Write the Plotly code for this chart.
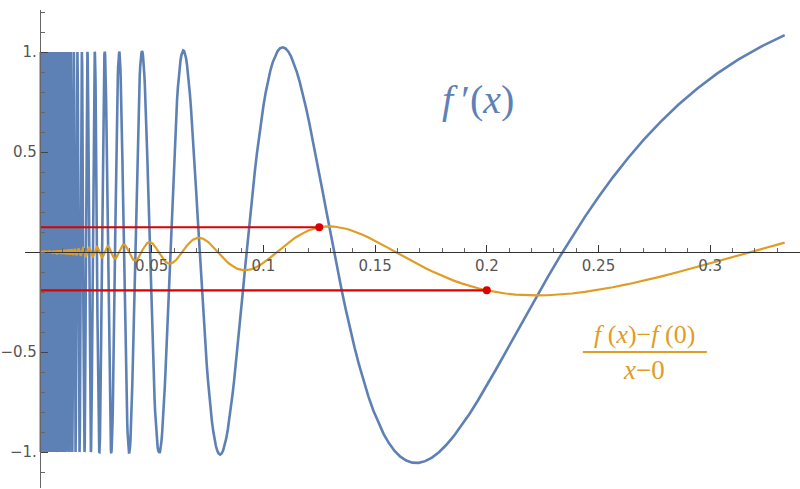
import numpy as np
import plotly.graph_objects as go

# f(x) = x^2 sin(1/x); the plot shows f'(x) and the difference quotient at 0
X_MIN, X_MAX = 0.0, 1 / 3
MARK_X = [0.125, 0.2]

X_TICKS = [0.05, 0.1, 0.15, 0.2, 0.25, 0.3]
X_TICK_TEXT = ["0.05", "0.1", "0.15", "0.2", "0.25", "0.3"]
Y_TICKS = [-1, -0.5, 0.5, 1]
Y_TICK_TEXT = ["\u22121.", "\u22120.5", "0.5", "1."]

BLUE = "#5E81B5"
ORANGE = "#E19C24"
RED = "#DD0000"
AXIS = "#555555"

# sample evenly in 1/x so every oscillation near 0 is resolved
u = np.arange(1 / X_MAX, 3000, 0.1)
x = 1 / u
x = x[::-1]
fprime = 2 * x * np.sin(1 / x) - np.cos(1 / x)
quotient = x * np.sin(1 / x)

mark_y = [xv * np.sin(1 / xv) for xv in MARK_X]

fig = go.Figure()
fig.add_trace(go.Scatter(x=x, y=fprime, mode="lines",
                         line=dict(color=BLUE, width=2.6), hoverinfo="skip"))
fig.add_trace(go.Scatter(x=x, y=quotient, mode="lines",
                         line=dict(color=ORANGE, width=2.2), hoverinfo="skip"))
for xv, yv in zip(MARK_X, mark_y):
    fig.add_trace(go.Scatter(x=[0, xv], y=[yv, yv], mode="lines",
                             line=dict(color=RED, width=2.2), hoverinfo="skip"))
fig.add_trace(go.Scatter(x=MARK_X, y=mark_y, mode="markers",
                         marker=dict(color=RED, size=8), hoverinfo="skip"))

fig.add_annotation(x=0.196, y=0.76, xref="x", yref="y", showarrow=False,
                   text="<i>f</i>\u2009\u2032(<i>x</i>)",
                   font=dict(family="Liberation Serif", size=40, color=BLUE))
fig.add_annotation(x=0.2705, y=-0.41, xref="x", yref="y", showarrow=False,
                   text="<i>f</i> (<i>x</i>)\u2212<i>f</i> (0)",
                   font=dict(family="Liberation Serif", size=26, color=ORANGE))
fig.add_annotation(x=0.2705, y=-0.59, xref="x", yref="y", showarrow=False,
                   text="<i>x</i>\u22120",
                   font=dict(family="Liberation Serif", size=27, color=ORANGE))
fig.add_shape(type="line", xref="x", yref="y", x0=0.243, x1=0.2985,
              y0=-0.5, y1=-0.5, line=dict(color=ORANGE, width=1.8))

fig.update_layout(
    width=800, height=489,
    margin=dict(l=0, r=0, t=0, b=0),
    paper_bgcolor="white", plot_bgcolor="white",
    showlegend=False,
    font=dict(family="DejaVu Sans", size=15, color=AXIS),
    xaxis=dict(
        domain=[25 / 800, 1], range=[-15 / 2234, 760 / 2234],
        anchor="free", position=237 / 489,
        showgrid=False, zeroline=False,
        showline=True, linecolor="#333333", linewidth=1.2,
        tickvals=X_TICKS, ticktext=X_TICK_TEXT,
        ticks="inside", ticklen=7, tickcolor="#333333",
        minor=dict(dtick=0.01, tick0=0, ticks="inside", ticklen=4, tickcolor="#666666"),
    ),
    yaxis=dict(
        domain=[1 / 489, 479 / 489], range=[-1.18, 1.21],
        anchor="free", position=40 / 800,
        showgrid=False, zeroline=False,
        showline=True, linecolor="#666666", linewidth=1.2,
        tickvals=Y_TICKS, ticktext=Y_TICK_TEXT,
        ticks="inside", ticklen=7, tickcolor="#444444",
        minor=dict(dtick=0.1, tick0=0, ticks="inside", ticklen=4, tickcolor="#666666"),
    ),
)

# the page body has a default 8px margin; drop it so the figure sits at 0,0
fig.write_html("out.html", config={"displayModeBar": False},
               post_script="document.body.style.margin='0';")
